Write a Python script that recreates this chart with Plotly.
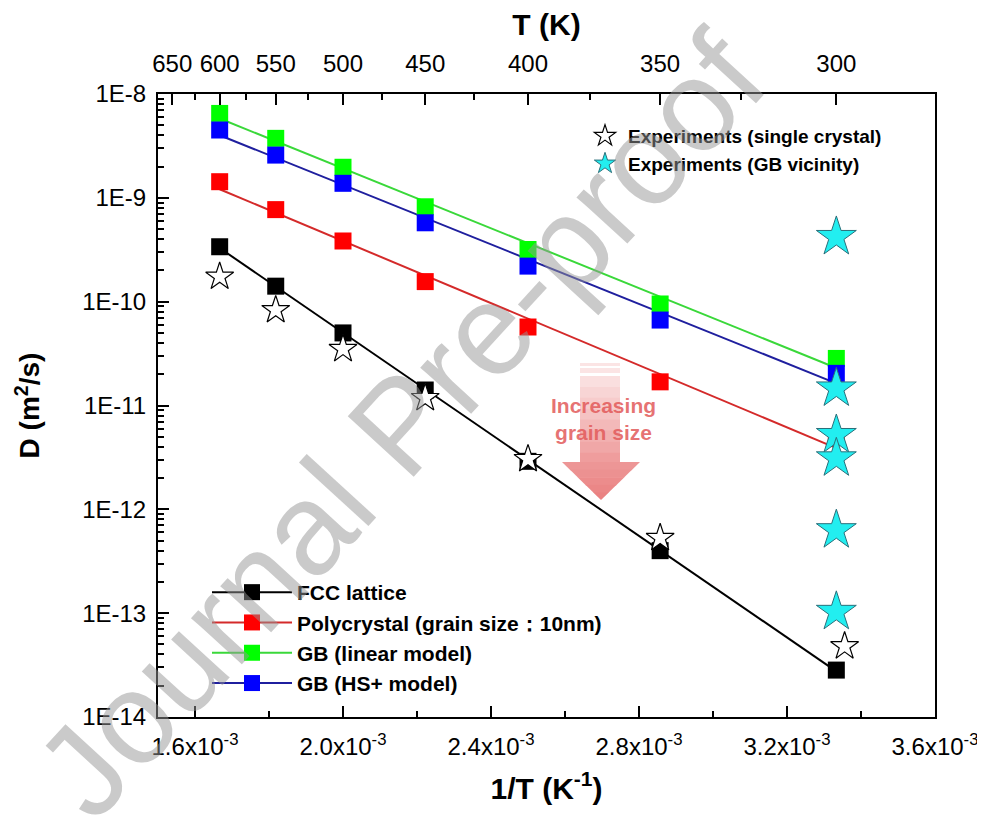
import numpy as np
import plotly.graph_objects as go

# ---------------- data ----------------
T = [600, 550, 500, 450, 400, 350, 300]
D_fcc = [3.38e-10, 1.41e-10, 5.0e-11, 1.41e-11, 2.9e-12, 4.0e-13, 2.83e-14]
D_poly = [1.43e-9, 7.7e-10, 3.84e-10, 1.56e-10, 5.7e-11, 1.69e-11, 5.0e-12]
D_gb_lin = [6.5e-9, 3.74e-9, 1.97e-9, 8.2e-10, 3.18e-10, 9.5e-11, 2.84e-11]
D_gb_hs = [4.5e-9, 2.58e-9, 1.38e-9, 5.75e-10, 2.2e-10, 6.65e-11, 2.04e-11]

T_exp_sc = [600, 550, 500, 450, 400, 350, 298]
D_exp_sc = [1.74e-10, 8.3e-11, 3.5e-11, 1.18e-11, 3.05e-12, 5.3e-13, 4.8e-14]
T_exp_gb = [300, 300, 300, 300, 300, 300]
D_exp_gb = [4.2e-10, 1.46e-11, 5.2e-12, 3.1e-12, 6.3e-13, 1.03e-13]

x_ticks = [1.6e-3, 2.0e-3, 2.4e-3, 2.8e-3, 3.2e-3, 3.6e-3]
x_ticktext = ["1.6x10<sup>-3</sup>", "2.0x10<sup>-3</sup>", "2.4x10<sup>-3</sup>",
              "2.8x10<sup>-3</sup>", "3.2x10<sup>-3</sup>", "3.6x10<sup>-3</sup>"]
x_minor = [1.8e-3, 2.2e-3, 2.6e-3, 3.0e-3, 3.4e-3]
T_top = [650, 600, 550, 500, 450, 400, 350, 300]
T_top_minor = [625, 575, 525, 475, 425, 375, 325]
y_exp = [-14, -13, -12, -11, -10, -9, -8]
y_ticktext = ["1E-14", "1E-13", "1E-12", "1E-11", "1E-10", "1E-9", "1E-8"]

series = [
    ("FCC lattice", D_fcc, "#000000", "#000000"),
    ("Polycrystal (grain size\uff1a10nm)", D_poly, "#ff0000", "#d42a2a"),
    ("GB (linear model)", D_gb_lin, "#00ff00", "#3ad83a"),
    ("GB (HS+ model)", D_gb_hs, "#0000ff", "#1f1f9e"),
]

FONT = "Arial, Liberation Sans, sans-serif"

inv_T = np.array([1.0 / t for t in T])
fig = go.Figure()

# fitted Arrhenius lines
for name, D, mcol, lcol in series:
    coef = np.polyfit(inv_T, np.log10(D), 1)
    xl = np.array([inv_T.min(), inv_T.max()])
    fig.add_trace(go.Scatter(x=xl, y=10 ** np.polyval(coef, xl), mode="lines",
                             line=dict(color=lcol, width=2), showlegend=False,
                             hoverinfo="skip"))

# data squares
for name, D, mcol, lcol in series:
    fig.add_trace(go.Scatter(x=inv_T, y=D, mode="markers",
                             marker=dict(symbol="square", size=17, color=mcol,
                                         line=dict(width=0)),
                             showlegend=False))

# legend-only entries (square + line)
for name, D, mcol, lcol in series:
    fig.add_trace(go.Scatter(x=[None], y=[None], mode="lines+markers", name=name,
                             marker=dict(symbol="square", size=16, color=mcol),
                             line=dict(color=lcol, width=2), legend="legend"))

# experiments
fig.add_trace(go.Scatter(x=[1.0 / t for t in T_exp_sc], y=D_exp_sc, mode="markers",
                         name="Experiments (single crystal)",
                         marker=dict(symbol="star", size=21, color="white",
                                     line=dict(color="black", width=1.2)),
                         legend="legend2", xaxis="x2"))
fig.add_trace(go.Scatter(x=[1.0 / t for t in T_exp_gb], y=D_exp_gb, mode="markers",
                         name="Experiments (GB vicinity)",
                         marker=dict(symbol="star", size=30, color="#22eef0",
                                     line=dict(color="#2a6f7a", width=1)),
                         legend="legend2"))

# ---------------- layout geometry (page has an 8px body margin) ----------------
OFF = 8
W, H = 985 - OFF, 818 - OFF
L, R, TOP, BOT = 158, 935, 94, 717          # target plot box in window pixels
def px(x):
    return (x - L) / (R - L)
def py(y):
    return (BOT - y) / (BOT - TOP)

shapes = []
def col(t):
    c0 = np.array([251, 228, 228])
    c1 = np.array([234, 128, 128])
    c = c0 + (c1 - c0) * t
    return "rgb(%d,%d,%d)" % tuple(c)

# stripes at top of arrow
for y0, y1 in [(363, 366), (368, 373)]:
    shapes.append(dict(type="rect", xref="paper", yref="paper", x0=px(580), x1=px(620),
                       y0=py(y1), y1=py(y0), fillcolor=col(0.0), line=dict(width=0),
                       layer="below"))
# shaft bands
n = 8
s0, s1 = 376, 463
for i in range(n):
    ya = s0 + (s1 - s0) * i / n
    yb = s0 + (s1 - s0) * (i + 1) / n + 0.6
    shapes.append(dict(type="rect", xref="paper", yref="paper", x0=px(580), x1=px(620),
                       y0=py(yb), y1=py(ya), fillcolor=col(0.75 * (i + 0.5) / n),
                       line=dict(width=0), layer="below"))
# head bands
h0, h1 = 462, 500
hx0, hx1, tipx = 562, 640, 601
m = 5
for i in range(m):
    ya = h0 + (h1 - h0) * i / m
    yb = h0 + (h1 - h0) * (i + 1) / m + (0.6 if i < m - 1 else 0)
    fa = 1 - (ya - h0) / (h1 - h0)
    fb = 1 - (min(yb, h1) - h0) / (h1 - h0)
    xa0 = tipx - (tipx - hx0) * fa
    xa1 = tipx + (hx1 - tipx) * fa
    xb0 = tipx - (tipx - hx0) * fb
    xb1 = tipx + (hx1 - tipx) * fb
    path = "M %f %f L %f %f L %f %f L %f %f Z" % (
        px(xa0), py(ya), px(xa1), py(ya), px(xb1), py(min(yb, h1)), px(xb0), py(min(yb, h1)))
    shapes.append(dict(type="path", xref="paper", yref="paper", path=path,
                       fillcolor=col(0.75 + 0.25 * (i + 0.5) / m), line=dict(width=0),
                       layer="below"))

annotations = [
    dict(text="<b>Increasing<br>grain size</b>", xref="paper", yref="paper",
         x=px(603), y=py(419), xanchor="center", yanchor="middle", showarrow=False,
         font=dict(family=FONT, size=21, color="rgba(226,90,90,0.85)"), align="center"),
    dict(text="Journal Pre-proof", xref="paper", yref="paper", x=px(400), y=py(425),
         xanchor="center", yanchor="middle", showarrow=False, textangle=-47.5,
         font=dict(family=FONT, size=130, color="rgba(150,150,150,0.5)")),
]

axis_common = dict(showline=True, linecolor="black", linewidth=2, ticks="inside",
                   tickcolor="black", tickwidth=2, ticklen=11,
                   tickfont=dict(family=FONT, size=24, color="black"),
                   showgrid=False, zeroline=False, automargin=False)

fig.update_layout(
    width=W, height=H,
    margin=dict(l=L - OFF, r=W - (R - OFF), t=TOP - OFF, b=H - (BOT - OFF),
                autoexpand=False),
    paper_bgcolor="white", plot_bgcolor="white",
    font=dict(family=FONT, color="black"),
    xaxis=dict(**axis_common, range=[1.5e-3, 3.6e-3], tickmode="array",
               tickvals=x_ticks, ticktext=x_ticktext, ticklabelstandoff=7,
               minor=dict(tickmode="array", tickvals=x_minor, ticks="inside",
                          ticklen=6, tickwidth=2, tickcolor="black"),
               title=dict(text="<b>1/T (K<sup>-1</sup>)</b>",
                          font=dict(family=FONT, size=30), standoff=19)),
    xaxis2=dict(**axis_common, overlaying="x", side="top",
                range=[1.5e-3, 3.6e-3], tickmode="array",
                tickvals=[1.0 / t for t in T_top], ticktext=[str(t) for t in T_top],
                ticklabelstandoff=10,
                minor=dict(tickmode="array", tickvals=[1.0 / t for t in T_top_minor],
                           ticks="inside", ticklen=6, tickwidth=2, tickcolor="black"),
                title=dict(text="<b>T (K)</b>", font=dict(family=FONT, size=30),
                           standoff=14)),
    yaxis=dict(**axis_common, type="log", range=[-14, -8], mirror=True,
               tickmode="array", tickvals=[10.0 ** e for e in y_exp],
               ticktext=y_ticktext, ticklabelstandoff=5,
               minor=dict(tickmode="array",
                          tickvals=[k * 10.0 ** e for e in y_exp[:-1] for k in range(2, 10)],
                          ticks="inside", ticklen=6, tickwidth=1.5, tickcolor="black"),
               title=dict(text="<b>D (m<sup>2</sup>/s)</b>",
                          font=dict(family=FONT, size=28), standoff=34)),
    legend=dict(x=px(207), y=py(572), xanchor="left", yanchor="top",
                bgcolor="rgba(0,0,0,0)", itemwidth=80, tracegroupgap=0,
                font=dict(family=FONT, size=21, color="black", weight="bold")),
    legend2=dict(x=px(582), y=py(117), xanchor="left", yanchor="top",
                 bgcolor="rgba(0,0,0,0)", itemwidth=36,
                 font=dict(family=FONT, size=19, color="black", weight="bold")),
    shapes=shapes,
    annotations=annotations,
)

fig.write_html("out.html")
